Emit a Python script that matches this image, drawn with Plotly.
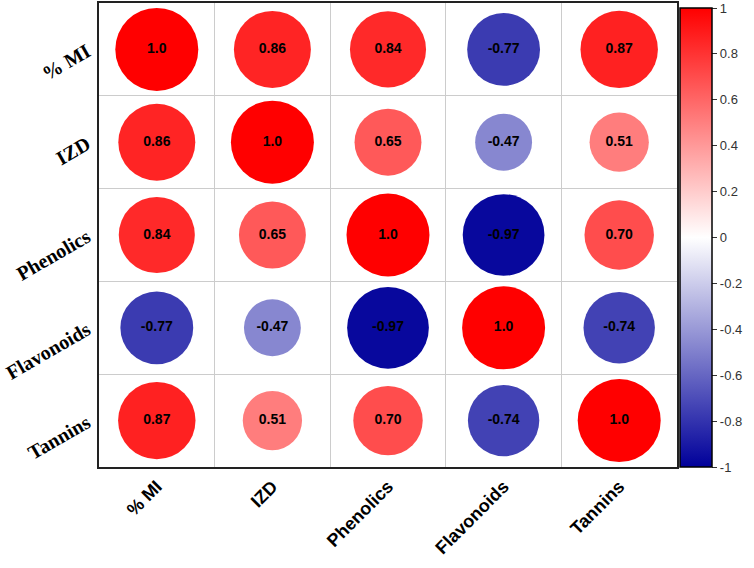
import numpy as np
import plotly.graph_objects as go

labels = ['% MI', 'IZD', 'Phenolics', 'Flavonoids', 'Tannins']
corr = [[1.0, 0.86, 0.84, -0.77, 0.87],
        [0.86, 1.0, 0.65, -0.47, 0.51],
        [0.84, 0.65, 1.0, -0.97, 0.70],
        [-0.77, -0.47, -0.97, 1.0, -0.74],
        [0.87, 0.51, 0.70, -0.74, 1.0]]
cb_ticks = [-1, -0.8, -0.6, -0.4, -0.2, 0, 0.2, 0.4, 0.6, 0.8, 1]

xs, ys, vals, txt = [], [], [], []
for i, row in enumerate(corr):
    for j, v in enumerate(row):
        xs.append(j)
        ys.append(i)
        vals.append(v)
        txt.append('1.0' if v == 1.0 else f'{v:.2f}')
vals = np.array(vals)

fig = go.Figure(go.Scatter(
    x=xs, y=ys, mode='markers+text', text=txt,
    textfont=dict(family='Arial, Liberation Sans', size=14, color='black', weight='bold'),
    marker=dict(size=83 * np.sqrt(np.abs(vals)), sizemode='diameter', color=vals, opacity=1,
                cmin=-1, cmax=1, line=dict(width=0),
                colorscale=[[0, '#00009A'], [0.5, '#FFFFFF'], [1, '#FF0000']],
                colorbar=dict(x=1.005, xanchor='left', y=0, yanchor='bottom', len=0.99,
                              lenmode='fraction',
                              thickness=32, outlinecolor='black', outlinewidth=1.5,
                              xpad=0, ypad=0, ticklabeloverflow='allow',
                              tickvals=cb_ticks, ticktext=[str(t) for t in cb_ticks],
                              ticks='outside', ticklen=5, tickcolor='#333',
                              tickfont=dict(family='Arial, Liberation Sans', size=13, color='#333'))),
    showlegend=False, hoverinfo='skip'))

fig.update_xaxes(range=[-0.5, 4.5], tickvals=list(range(5)), ticktext=labels, tickangle=-45,
                 tickfont=dict(family='Arial, Liberation Sans', size=18, color='black', weight='bold'),
                 showgrid=False, zeroline=False, showline=True, linecolor='#222', linewidth=2,
                 mirror=True, ticks='', automargin=False,
                 minor=dict(tick0=0.5, dtick=1, showgrid=True, gridcolor='#CCCCCC', gridwidth=1))
fig.update_yaxes(range=[4.5, -0.5], tickvals=list(range(5)), ticktext=labels, tickangle=-30,
                 tickfont=dict(family='Liberation Serif, Times New Roman', size=20, color='black', weight='bold'),
                 showgrid=False, zeroline=False, showline=True, linecolor='#222', linewidth=2,
                 mirror=True, ticks='', ticklabelstandoff=6, automargin=False,
                 minor=dict(tick0=0.5, dtick=1, showgrid=True, gridcolor='#CCCCCC', gridwidth=1))
fig.update_layout(width=754, height=568, plot_bgcolor='white', paper_bgcolor='white',
                  margin=dict(l=99, r=77, t=3, b=101, autoexpand=False))
fig.write_html("out.html", config={'displayModeBar': False},
               post_script="document.body.style.margin='0';")
